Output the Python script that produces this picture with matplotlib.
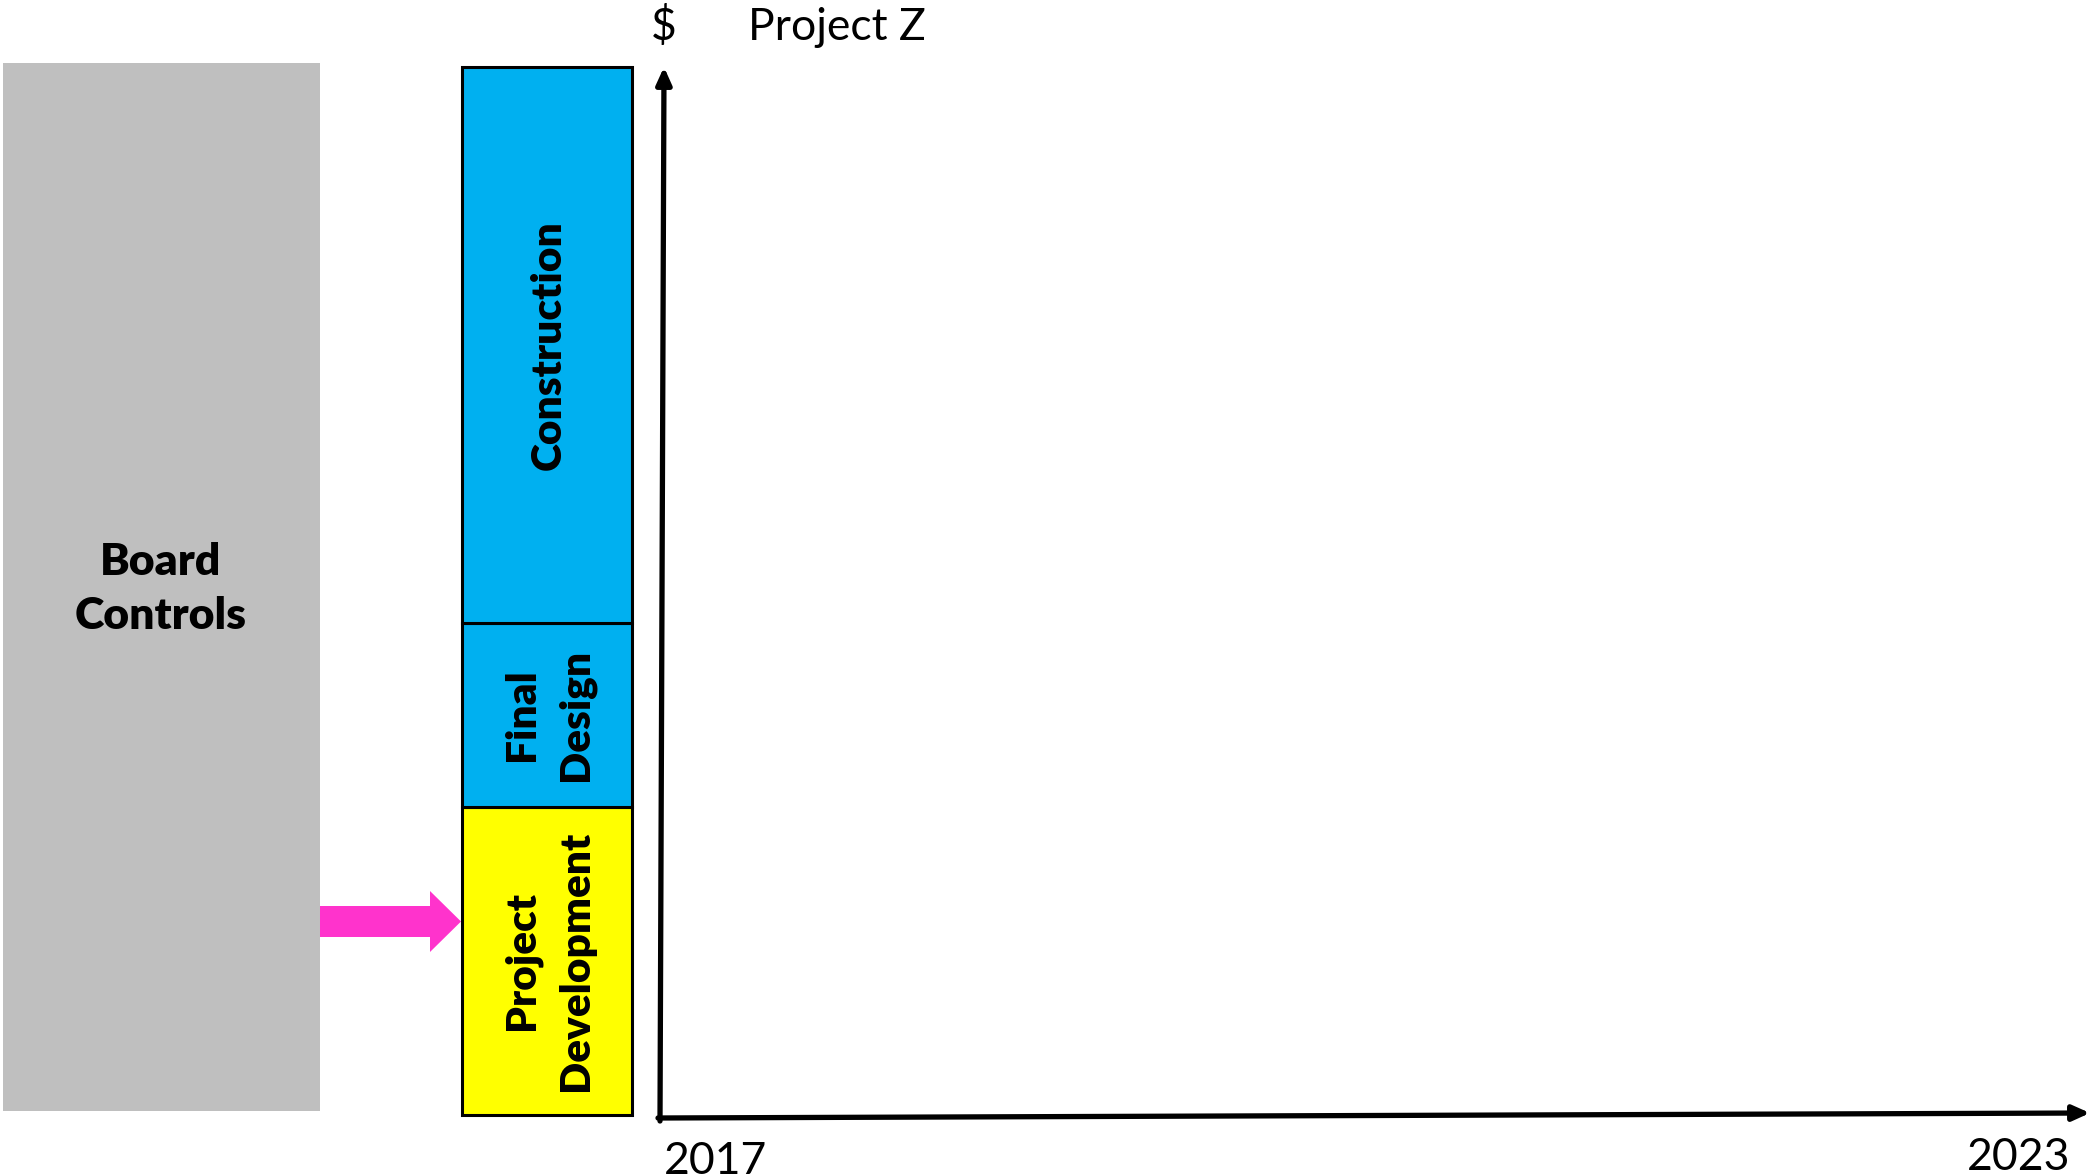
import matplotlib
matplotlib.use("Agg")
import matplotlib.pyplot as plt
from matplotlib.patches import Rectangle, Polygon

plt.rcParams['font.family'] = ['Lato', 'DejaVu Sans']

# ---- data ----
title_text = "Project Z"
y_label = "$"
x_labels = ["2017", "2023"]
control_label = "Board\nControls"
stage_names = ["Project\nDevelopment", "Final\nDesign", "Construction"]
stage_heights = [308, 184, 556]
stage_colors = ["#FFFF00", "#00B0F0", "#00B0F0"]
control_color = "#BFBFBF"
arrow_color = "#FF33CC"

W, H = 2091, 1175
fig = plt.figure(figsize=(W / 100, H / 100), dpi=100)
ax = fig.add_axes([0, 0, 1, 1])
ax.set_xlim(0, W)
ax.set_ylim(0, H)
ax.axis("off")

FS = 32
FS_STAGE = 30.5

# Board controls block
ax.add_patch(Rectangle((3, 64), 317, 1048, facecolor=control_color, edgecolor="none"))
ax.text(161, 586, control_label, ha="center", va="center", fontsize=FS,
        fontweight="heavy", linespacing=1.45)

# Stacked stage bars
bottom = 60
bar_x, bar_w = 547, 170
for name, h, c in zip(stage_names, stage_heights, stage_colors):
    ax.bar(bar_x, h, width=bar_w, bottom=bottom, color=c, edgecolor="black",
           linewidth=2.2, zorder=2)
    ax.text(bar_x + 2, bottom + h / 2, name, rotation=90, ha="center", va="center",
            fontsize=FS_STAGE, fontweight="heavy", linespacing=1.5,
            multialignment="center", zorder=3)
    bottom += h

# Pink arrow
ax.add_patch(Polygon([(320, 238), (430, 238), (430, 223), (461, 253.5),
                      (430, 284), (430, 269), (320, 269)], closed=True,
                     facecolor=arrow_color, edgecolor="none", zorder=2))

# Axes arrows
ax.annotate("", xy=(664, 1108), xytext=(660, 54),
            arrowprops=dict(arrowstyle="-|>,head_length=1.0,head_width=0.45",
                            lw=3.8, color="black", shrinkA=0, shrinkB=0))
ax.annotate("", xy=(2090, 62), xytext=(658, 57),
            arrowprops=dict(arrowstyle="-|>,head_length=1.0,head_width=0.45",
                            lw=3.8, color="black", shrinkA=0, shrinkB=0))

# Labels
ax.text(664, 1148, y_label, ha="center", va="center", fontsize=FS)
ax.text(748, 1148, title_text, ha="left", va="center", fontsize=FS)
ax.text(664, 13, x_labels[0], ha="left", va="center", fontsize=FS)
ax.text(2070, 17, x_labels[1], ha="right", va="center", fontsize=FS)

fig.savefig("out.png", dpi=100, facecolor="white")
